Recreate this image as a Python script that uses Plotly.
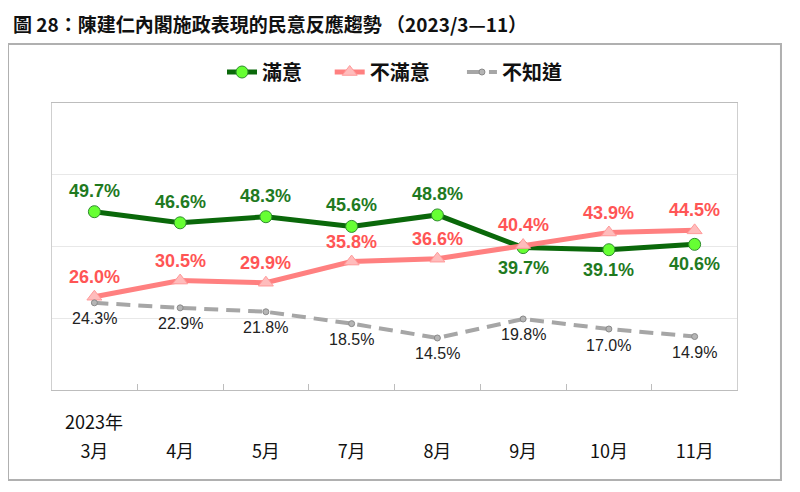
import plotly.graph_objects as go

months = ["3月", "4月", "5月", "7月", "8月", "9月", "10月", "11月"]
satisfied = [49.7, 46.6, 48.3, 45.6, 48.8, 39.7, 39.1, 40.6]
dissatisfied = [26.0, 30.5, 29.9, 35.8, 36.6, 40.4, 43.9, 44.5]
unknown = [24.3, 22.9, 21.8, 18.5, 14.5, 19.8, 17.0, 14.9]
sat_label_below = [False, False, False, False, False, True, True, True]

CJK = "Noto Sans CJK TC, sans-serif"
LAT = "Liberation Sans, Arial, sans-serif"
NB = "\u00a0"

fig = go.Figure()
fig.add_trace(go.Scatter(
    x=months, y=satisfied, name="滿意" + NB * 5, mode="lines+markers",
    line=dict(color="#0a680a", width=5),
    marker=dict(symbol="circle", size=12, color="#66ff33", line=dict(color="#2e8b2e", width=1)),
))
fig.add_trace(go.Scatter(
    x=months, y=dissatisfied, name="不滿意" + NB * 6, mode="lines+markers",
    line=dict(color="#ff8080", width=5),
    marker=dict(symbol="triangle-up", size=13, color="#ffbcbc", line=dict(color="#ff9a9a", width=1)),
))
fig.add_trace(go.Scatter(
    x=months, y=unknown, name="不知道", mode="lines+markers",
    line=dict(color="#a6a6a6", width=4, dash="14px,8px"),
    marker=dict(symbol="circle", size=6, color="#b5b5b5", line=dict(color="#8a8a8a", width=1)),
))

annotations = []
for m, v, below in zip(months, satisfied, sat_label_below):
    annotations.append(dict(x=m, y=v, text=f"{v:.1f}%", showarrow=False,
                            yshift=-20 if below else 21,
                            font=dict(family=LAT, size=18, color="#1f7a1f", weight="bold")))
for m, v in zip(months, dissatisfied):
    annotations.append(dict(x=m, y=v, text=f"{v:.1f}%", showarrow=False, yshift=20,
                            font=dict(family=LAT, size=18, color="#ff5555", weight="bold")))
for m, v in zip(months, unknown):
    annotations.append(dict(x=m, y=v, text=f"{v:.1f}%", showarrow=False, yshift=-16,
                            font=dict(family=LAT, size=16, color="#222222")))

annotations.append(dict(xref="paper", yref="paper", x=0.0613, y=-0.108, text="2023年",
                        showarrow=False, xanchor="center", yanchor="middle",
                        font=dict(family=CJK, size=18, color="#111111")))
annotations.append(dict(xref="paper", yref="paper", x=-0.0605, y=1.331,
                        text="圖 28：陳建仁內閣施政表現的民意反應趨勢 （2023/3—11）",
                        showarrow=False, xanchor="left", yanchor="top",
                        font=dict(family=CJK, size=19, color="#111111", weight="bold")))

fig.update_layout(
    width=800, height=492,
    margin=dict(l=44, r=71, t=95, b=110),
    paper_bgcolor="white", plot_bgcolor="white",
    showlegend=True,
    legend=dict(orientation="h", x=0.5, xanchor="center", y=1.108, yanchor="middle",
                font=dict(family=CJK, size=20, color="#111111", weight="bold"),
                itemwidth=30, bgcolor="rgba(0,0,0,0)"),
    annotations=annotations,
    shapes=[dict(type="rect", xref="paper", yref="paper",
                 x0=-0.0642, x1=1.0642, y0=-0.3136, y1=1.2056,
                 line=dict(color="#b0b0b0", width=2), layer="below")],
)
fig.update_xaxes(
    type="category", showgrid=False, showline=True, linecolor="#bdbdbd", linewidth=1,
    mirror=True, ticks="inside", tickson="boundaries", ticklen=6, tickcolor="#bdbdbd",
    tickfont=dict(family=CJK, size=18, color="#111111"), ticklabelstandoff=45,
)
fig.update_yaxes(
    range=[0, 80], dtick=20, showticklabels=False, showgrid=True, gridcolor="#e8e8e8",
    gridwidth=1, zeroline=False, showline=True, linecolor="#cfcfcf", mirror=True,
)

fig.write_html("out.html")
